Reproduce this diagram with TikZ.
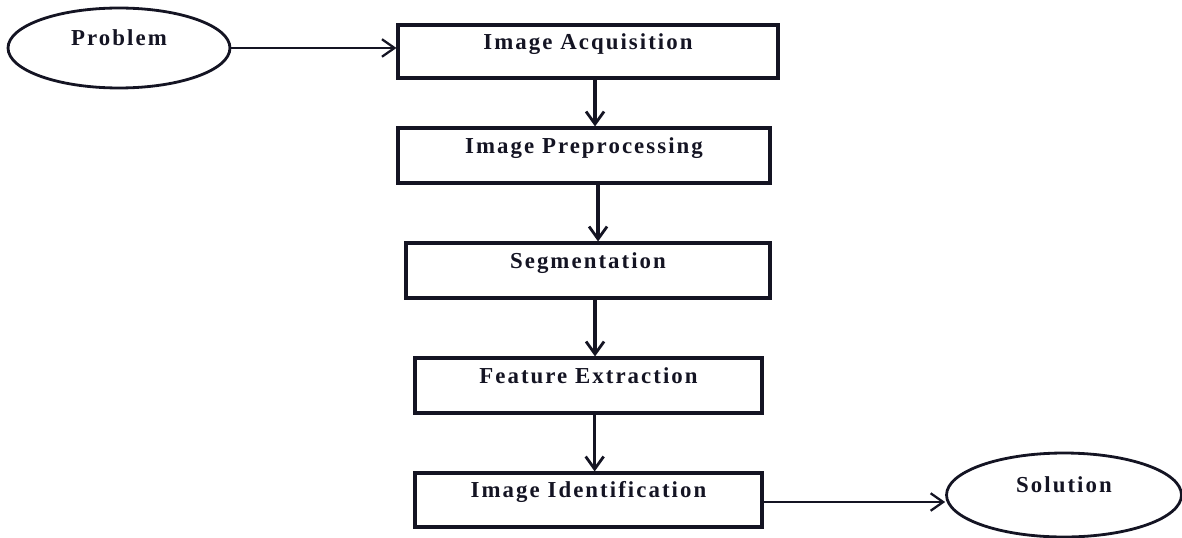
\documentclass[tikz,border=0pt]{standalone}
\usepackage{fontspec}
\setmainfont{Liberation Serif}[LetterSpace=9]
\usetikzlibrary{arrows.meta,shapes.geometric,positioning}

\tikzset{
  stage/.style={draw, rectangle, line width=1.8pt, inner sep=0pt,
    text height=3mm, text depth=4mm, font=\fontsize{13}{15}\selectfont\bfseries},
  goal/.style={draw, ellipse, line width=1.6pt, inner sep=0pt,
    text height=3mm, text depth=4mm, font=\fontsize{13}{15}\selectfont\bfseries},
  flow/.style={-{Straight Barb[length=2.5mm,width=3.6mm,line width=1.6pt]}, line width=1.9pt},
  side/.style={-{Straight Barb[length=2.5mm,width=3.5mm,line width=1.3pt]}, line width=1.4pt}
}

\begin{document}
\begin{tikzpicture}[x=0.02cm,y=-0.02cm, color={rgb,255:red,20;green,20;blue,35}]
\useasboundingbox (0,0) rectangle (1182,537);

% start and end
\node[goal, minimum width=4.44cm, minimum height=1.6cm] (prob) at (119,48) {Problem};
\node[goal, minimum width=4.7cm, minimum height=1.68cm] (sol) at (1064,495) {Solution};

% steps
\node[stage, minimum width=7.6cm, minimum height=1.06cm] (acq) at (588,51.5) {Image Acquisition};
\node[stage, minimum width=7.44cm, minimum height=1.1cm] (pre) at (584,155.5) {Image Preprocessing};
\node[stage, minimum width=7.28cm, minimum height=1.1cm] (seg) at (588,270.5) {Segmentation};
\node[stage, minimum width=6.94cm, minimum height=1.1cm] (feat) at (588.5,385.5) {Feature Extraction};
\node[stage, minimum width=6.94cm, minimum height=1.08cm] (ident) at (588.5,500) {Image Identification};

% arrows
\draw[side] (prob.east) -- (prob.east -| acq.west);
\draw[flow] ([xshift=4]acq.south) -- ([xshift=4]acq.south |- pre.north);
\draw[flow] ([xshift=8]pre.south) -- ([xshift=8]pre.south |- seg.north);
\draw[flow] ([xshift=4]seg.south) -- ([xshift=4]seg.south |- feat.north);
\draw[flow] ([xshift=3.5]feat.south) -- ([xshift=3.5]feat.south |- ident.north);
\draw[side] (ident.east |- 0,502) -- (sol.west |- 0,502);
\end{tikzpicture}
\end{document}
